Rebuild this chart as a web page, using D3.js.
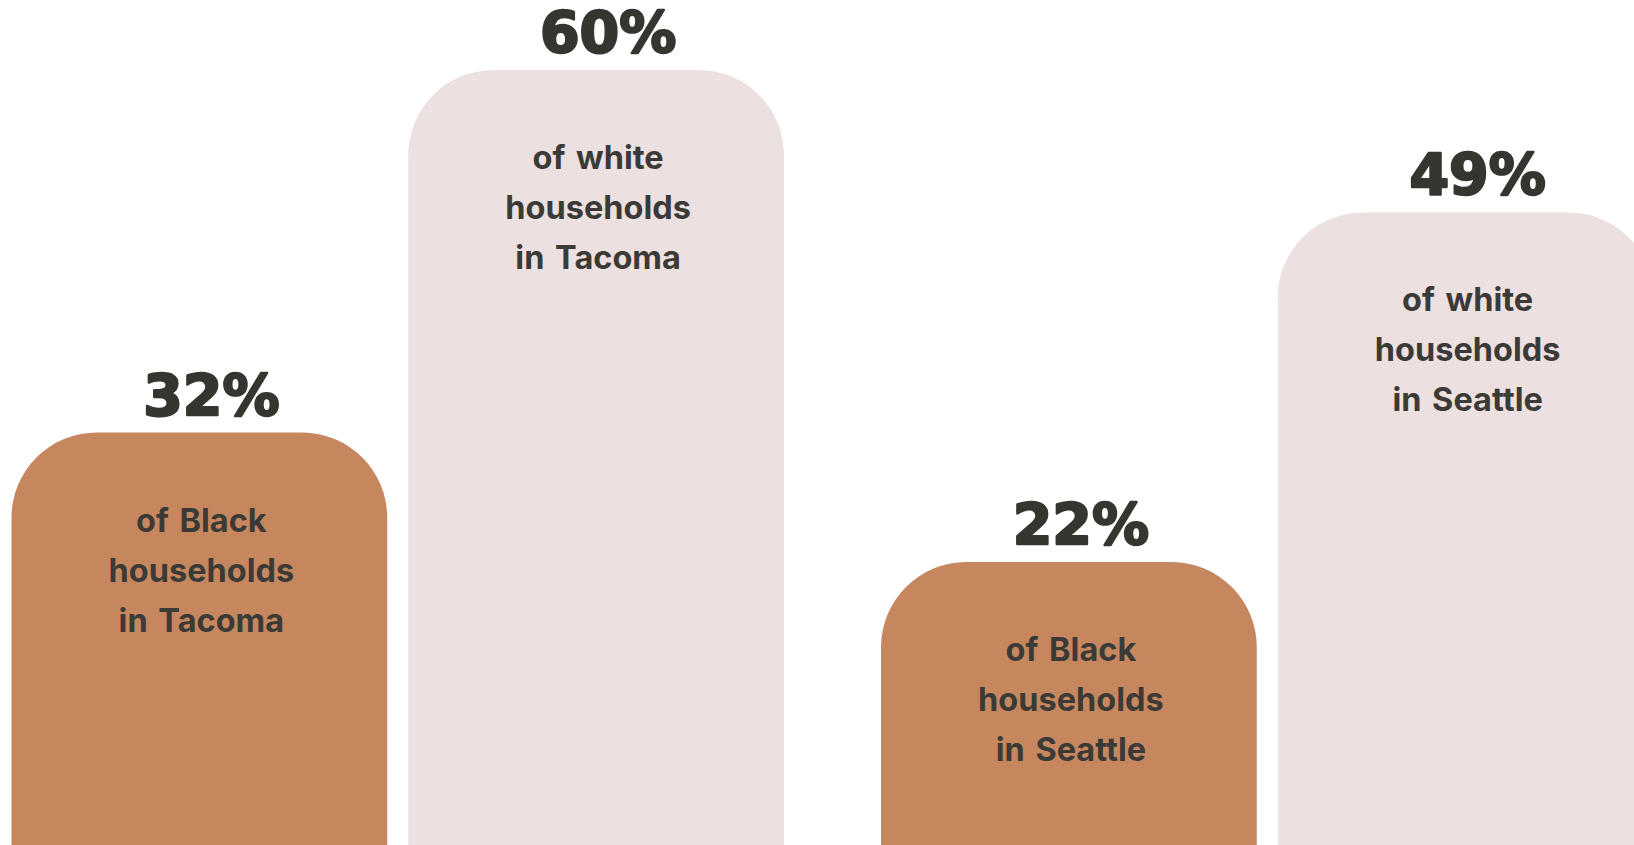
<!DOCTYPE html>
<html>
<head>
<meta charset="utf-8">
<script src="https://cdn.jsdelivr.net/npm/d3@7"></script>
<style>
  html, body { margin: 0; padding: 0; background: #ffffff; overflow: hidden; }
  svg { display: block; }
</style>
</head>
<body>
<svg id="chart" width="1634" height="845"></svg>
<script>
// ---- data ----
const cities = ["Tacoma", "Seattle"];
const races = ["Black", "white"];
const blackValues = [32, 22];
const whiteValues = [60, 49];
const valueLabels = ["32%", "60%", "22%", "49%"];

// ---- build rows ----
const rows = [];
cities.forEach((c, i) => {
  rows.push({ city: c, race: "Black", value: blackValues[i] });
  rows.push({ city: c, race: "white", value: whiteValues[i] });
});
rows.forEach((d, i) => d.label = valueLabels[i]);

const W = 1634, H = 845;
const svg = d3.select("#chart");

const x0 = d3.scaleBand().domain(cities).range([11.5, 1653.5]).paddingInner(97 / 869).paddingOuter(0);
const x1 = d3.scaleBand().domain(races).range([0, x0.bandwidth()]).paddingInner(21 / 396.5).paddingOuter(0);
const y = d3.scaleLinear().domain([0, 60]).range([847, 70]);

const color = d3.scaleOrdinal().domain(races).range(["#c6875e", "#ede0e0"]);
const R = 85;

function barPath(x, top, w, bottom) {
  const r = Math.min(R, w / 2, bottom - top);
  return `M${x},${bottom} L${x},${top + r} A${r},${r} 0 0 1 ${x + r},${top} L${x + w - r},${top} A${r},${r} 0 0 1 ${x + w},${top + r} L${x + w},${bottom} Z`;
}

const g = svg.selectAll("g.bar").data(rows).join("g").attr("class", "bar")
  .attr("transform", d => `translate(${x0(d.city) + x1(d.race)},0)`);

g.append("path")
  .attr("d", d => barPath(0, y(d.value), x1.bandwidth(), H + 20))
  .attr("fill", d => color(d.race));

g.append("text")
  .attr("x", x1.bandwidth() / 2 + 12)
  .attr("y", d => y(d.value) - 17)
  .attr("text-anchor", "middle")
  .attr("font-family", "'DejaVu Sans', sans-serif")
  .attr("font-weight", 700)
  .attr("font-size", 57)
  .attr("fill", "#37352f")
  .attr("stroke", "#37352f")
  .attr("stroke-width", 2.4)
  .attr("stroke-linejoin", "round")
  .text(d => d.label);

const lineOffsets = [99, 149, 199];
g.each(function(d) {
  const lines = ["of " + d.race, "households", "in " + d.city];
  d3.select(this).selectAll("text.desc").data(lines).join("text")
    .attr("class", "desc")
    .attr("x", x1.bandwidth() / 2 + 2)
    .attr("y", (t, i) => y(d.value) + lineOffsets[i])
    .attr("text-anchor", "middle")
    .attr("font-family", "Inter, sans-serif")
    .attr("font-weight", 700)
    .attr("font-size", 32.5)
    .attr("word-spacing", 3)
    .attr("fill", "#3b3a36")
    .text(t => t);
});
</script>
</body>
</html>
